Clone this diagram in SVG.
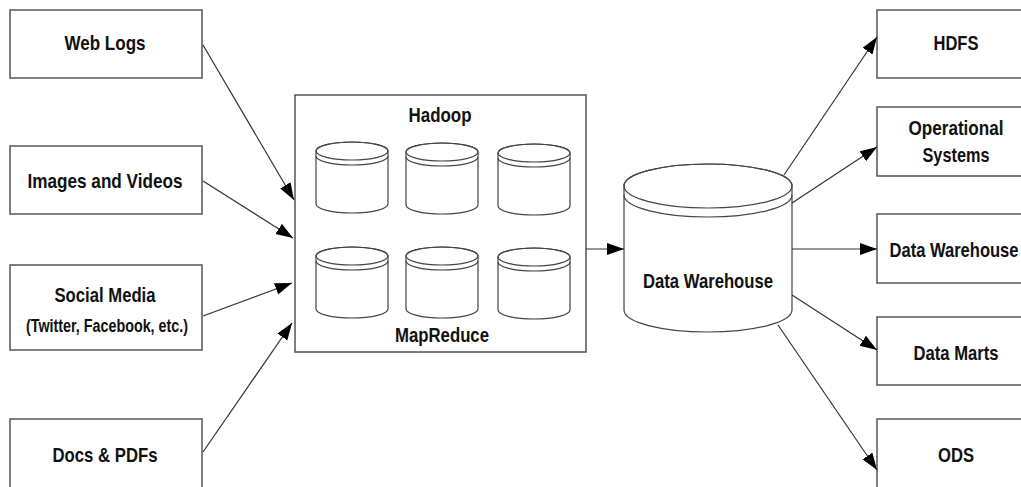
<svg xmlns="http://www.w3.org/2000/svg" width="1021" height="487" viewBox="0 0 1021 487">
<defs>
<style>
.box{fill:#fff;stroke:#555;stroke-width:1.5}
.cyl{fill:#fff;stroke:#444;stroke-width:1.2}
.band{fill:none;stroke:#444;stroke-width:1.2}
.lbl{font-family:"Liberation Sans Narrow","Liberation Sans",Arial,sans-serif;font-weight:bold;font-size:21px;fill:#111;text-anchor:middle}
.sm{font-size:18px}
.conn{stroke:#333;stroke-width:1.2;fill:none;marker-end:url(#ah)}
</style>
<marker id="ah" markerUnits="userSpaceOnUse" markerWidth="18" markerHeight="13" refX="17" refY="6" orient="auto">
<path d="M0,0 L17,6 L0,12 z" fill="#000"/>
</marker>
<g id="smallcyl">
<path class="cyl" d="M-36,0 L-36,53 A36,9 0 0 0 36,53 L36,0 A36,9 0 0 0 -36,0 Z"/>
<path class="band" d="M-36,0 A36,9 0 0 0 36,0 A36,9 0 0 0 -36,0 Z"/>
<path class="band" d="M-36,5 A36,9 0 0 0 36,5"/>
</g>
</defs>
<rect width="1021" height="487" fill="#fff"/>

<g id="web-logs"><rect class="box" x="10" y="10" width="192" height="68"/><text class="lbl" x="105" y="50" textLength="81" lengthAdjust="spacingAndGlyphs">Web Logs</text></g>
<g id="images-videos"><rect class="box" x="10" y="146" width="192" height="68"/><text class="lbl" x="105" y="188" textLength="155" lengthAdjust="spacingAndGlyphs">Images and Videos</text></g>
<g id="social-media"><rect class="box" x="10" y="265" width="192" height="85"/><text class="lbl" x="105" y="302" textLength="101" lengthAdjust="spacingAndGlyphs">Social Media</text><text class="lbl sm" x="107" y="332" textLength="162" lengthAdjust="spacingAndGlyphs">(Twitter, Facebook, etc.)</text></g>
<g id="docs-pdfs"><rect class="box" x="10" y="419" width="192" height="72"/><text class="lbl" x="105" y="462" textLength="105" lengthAdjust="spacingAndGlyphs">Docs &amp; PDFs</text></g>

<g id="hadoop">
<rect class="box" x="295" y="95" width="291" height="257"/>
<text class="lbl" x="440" y="122" textLength="63" lengthAdjust="spacingAndGlyphs">Hadoop</text>
<use href="#smallcyl" x="352" y="151"/>
<use href="#smallcyl" x="442" y="152"/>
<use href="#smallcyl" x="534" y="153"/>
<use href="#smallcyl" x="352" y="256"/>
<use href="#smallcyl" x="442" y="256"/>
<use href="#smallcyl" x="534" y="257"/>
<text class="lbl" x="442" y="342" textLength="94" lengthAdjust="spacingAndGlyphs">MapReduce</text>
</g>

<g id="data-warehouse-cyl">
<path class="cyl" d="M624,186 L624,310 A84,22 0 0 0 792,310 L792,186 A84,22 0 0 0 624,186 Z"/>
<path class="band" d="M624,186 A84,22 0 0 0 792,186 A84,22 0 0 0 624,186 Z"/>
<path class="band" d="M624,195 A84,22 0 0 0 792,195"/>
<text class="lbl" x="708" y="288" textLength="130" lengthAdjust="spacingAndGlyphs">Data Warehouse</text>
</g>

<g id="hdfs"><rect class="box" x="877" y="10" width="160" height="68"/><text class="lbl" x="956" y="50" textLength="45" lengthAdjust="spacingAndGlyphs">HDFS</text></g>
<g id="operational-systems"><rect class="box" x="877" y="107" width="160" height="69"/><text class="lbl" x="956" y="135" textLength="95" lengthAdjust="spacingAndGlyphs">Operational</text><text class="lbl" x="956" y="162" textLength="67" lengthAdjust="spacingAndGlyphs">Systems</text></g>
<g id="data-warehouse-out"><rect class="box" x="877" y="214" width="160" height="69"/><text class="lbl" x="954" y="257" textLength="129" lengthAdjust="spacingAndGlyphs">Data Warehouse</text></g>
<g id="data-marts"><rect class="box" x="877" y="317" width="160" height="68"/><text class="lbl" x="956" y="360" textLength="85" lengthAdjust="spacingAndGlyphs">Data Marts</text></g>
<g id="ods"><rect class="box" x="877" y="419" width="160" height="72"/><text class="lbl" x="956" y="462" textLength="36" lengthAdjust="spacingAndGlyphs">ODS</text></g>

<g id="connectors">
<line class="conn" x1="203" y1="45" x2="294" y2="200"/>
<line class="conn" x1="203" y1="181" x2="293" y2="238"/>
<line class="conn" x1="203" y1="316" x2="292" y2="283"/>
<line class="conn" x1="203" y1="452" x2="292" y2="323"/>
<line class="conn" x1="586" y1="249" x2="624" y2="249"/>
<line class="conn" x1="784" y1="175" x2="877" y2="37"/>
<line class="conn" x1="792" y1="203" x2="877" y2="147"/>
<line class="conn" x1="792" y1="249" x2="877" y2="249"/>
<line class="conn" x1="792" y1="295" x2="877" y2="350"/>
<line class="conn" x1="778" y1="325" x2="877" y2="470"/>
</g>
</svg>
